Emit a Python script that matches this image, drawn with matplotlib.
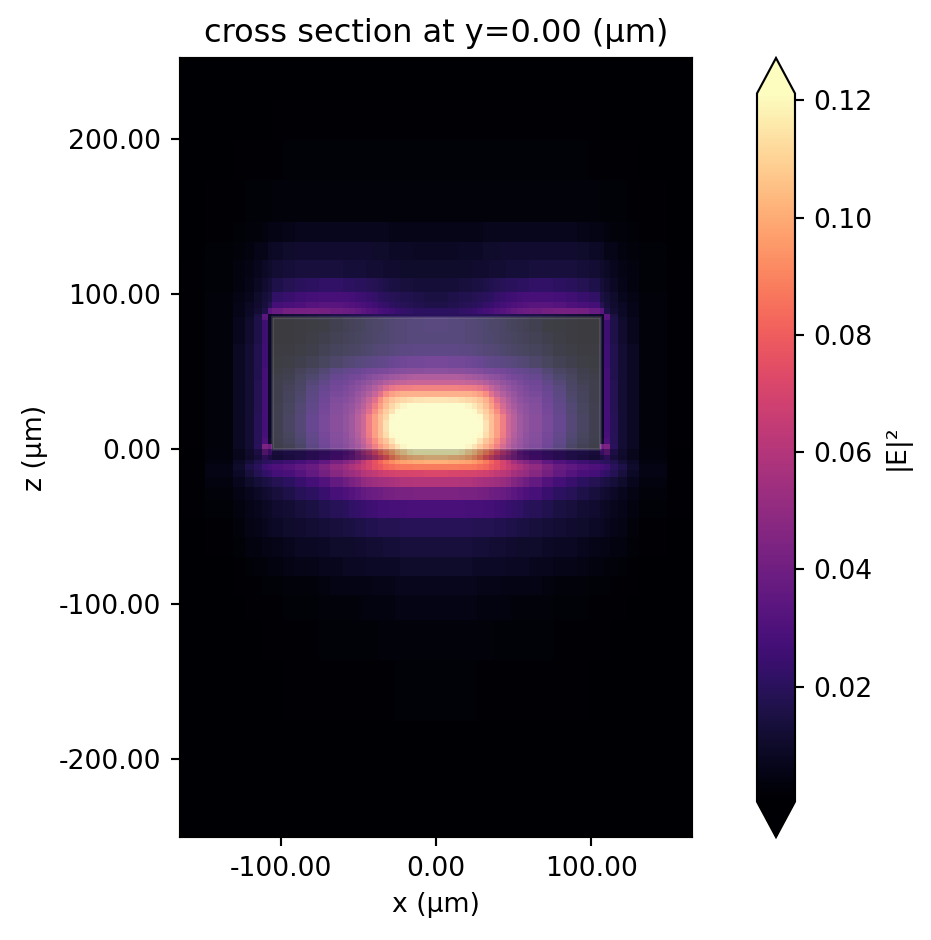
import numpy as np
import matplotlib
matplotlib.use("Agg")
import matplotlib.pyplot as plt
from matplotlib.patches import Rectangle

plt.rcParams["axes.unicode_minus"] = False

# ---------------- DATA ----------------
# left half of the x cell edges (um), the field is mirrored about x=0
x_edges_left = [-165, -149, -131, -123, -117, -112, -108.5, -106, -98.5, -91, -83.5, -75.5, -68, -60,
                -56, -52, -48.5, -45, -41, -37.5, -34, -30, -26.5, -23, -19, -15, -7.5, 0]

# z cell edges (um), top to bottom
z_edges = [252, 225, 199.4, 173.5, 146.5, 133.5, 122, 110.3, 101.3, 94.8, 91, 87, 85.4, 83.2,
           75.5, 67.7, 60, 52.3, 48.4, 44.5, 41, 37.4, 33.5, 29.7, 26, 22.6, 18.7, 14.8, 11, 7.4, 3.5, 0,
           -3.9, -7.1, -9.7, -13.5, -18, -24.5, -33, -44.5, -56.8, -69.7, -82, -94, -110, -136, -175, -250]

# |E|^2 in units of 0.001, one row per z cell, left half of x
field_left = [
    [0, 0, 0, 0, 0, 0, 0, 0, 0, 0, 0, 0, 0, 0, 0, 0, 0, 0, 0, 0, 0, 0, 0, 0, 0, 0, 0],
    [0, 0, 0, 0, 0, 0, 0, 1, 1, 1, 1, 1, 1, 1, 1, 1, 1, 1, 1, 1, 1, 1, 1, 1, 1, 1, 1],
    [0, 0, 1, 1, 1, 1, 1, 1, 2, 2, 2, 2, 2, 2, 2, 2, 2, 2, 2, 2, 2, 2, 2, 2, 2, 2, 2],
    [0, 1, 1, 2, 2, 2, 2, 3, 3, 3, 3, 3, 3, 3, 3, 3, 3, 3, 3, 3, 3, 3, 3, 3, 3, 3, 3],
    [0, 1, 2, 3, 3, 4, 5, 5, 6, 7, 7, 7, 7, 7, 7, 7, 7, 7, 7, 7, 7, 6, 6, 6, 6, 6, 6],
    [0, 2, 3, 4, 6, 6, 8, 9, 10, 11, 11, 11, 11, 11, 11, 11, 11, 11, 10, 10, 10, 9, 9, 9, 9, 8, 8],
    [1, 2, 4, 5, 7, 9, 10, 12, 13, 14, 14, 14, 14, 13, 13, 13, 13, 12, 12, 12, 11, 11, 11, 10, 10, 10, 10],
    [1, 2, 4, 6, 8, 11, 13, 16, 18, 20, 21, 22, 22, 21, 21, 20, 20, 19, 18, 17, 16, 15, 15, 14, 14, 13, 13],
    [1, 3, 5, 7, 10, 13, 15, 22, 24, 26, 27, 28, 28, 28, 27, 26, 25, 24, 23, 21, 20, 19, 18, 17, 17, 16, 15],
    [1, 3, 6, 8, 11, 14, 18, 27, 29, 30, 32, 33, 33, 32, 31, 30, 29, 27, 26, 24, 23, 21, 20, 19, 18, 17, 16],
    [1, 3, 6, 9, 12, 16, 34, 38, 41, 42, 42, 41, 40, 39, 38, 36, 34, 32, 31, 29, 27, 26, 24, 23, 22, 21, 21],
    [1, 3, 6, 9, 15, 34, 9, 11, 12, 13, 14, 15, 16, 16, 17, 17, 18, 18, 19, 19, 19, 20, 20, 20, 20, 20, 20],
    [1, 3, 7, 10, 16, 33, 9, 2, 3, 4, 5, 6, 7, 9, 9, 10, 11, 12, 13, 14, 15, 15, 16, 17, 17, 18, 19],
    [1, 3, 7, 11, 16, 25, 9, 1, 1, 2, 3, 4, 7, 8, 9, 10, 11, 13, 14, 14, 15, 16, 17, 17, 18, 18, 19],
    [1, 3, 7, 11, 16, 25, 9, 1, 1, 2, 4, 6, 8, 9, 10, 11, 12, 13, 14, 15, 15, 16, 17, 17, 18, 18, 18],
    [1, 3, 8, 12, 17, 26, 9, 2, 2, 4, 5, 8, 10, 11, 12, 13, 14, 15, 16, 17, 17, 18, 19, 20, 20, 21, 21],
    [1, 3, 8, 12, 17, 26, 9, 3, 4, 6, 8, 11, 14, 16, 17, 18, 19, 20, 21, 22, 23, 25, 26, 27, 28, 29, 30],
    [1, 3, 8, 12, 17, 27, 9, 4, 6, 9, 12, 16, 21, 23, 24, 25, 27, 29, 30, 31, 32, 34, 35, 36, 37, 37, 38],
    [1, 3, 8, 12, 17, 27, 9, 5, 7, 11, 15, 19, 24, 26, 28, 30, 32, 35, 38, 40, 43, 45, 47, 49, 51, 52, 52],
    [1, 3, 8, 12, 18, 27, 9, 6, 8, 12, 17, 22, 27, 29, 32, 35, 38, 41, 45, 49, 54, 57, 59, 60, 61, 62, 62],
    [1, 3, 8, 12, 18, 27, 9, 6, 9, 13, 19, 24, 29, 32, 35, 38, 42, 47, 53, 60, 68, 74, 77, 78, 79, 80, 80],
    [1, 3, 8, 12, 18, 27, 9, 6, 10, 14, 20, 26, 31, 34, 37, 42, 47, 53, 61, 71, 83, 90, 93, 95, 96, 96, 96],
    [1, 3, 8, 12, 18, 27, 9, 6, 10, 15, 21, 27, 33, 36, 40, 45, 52, 61, 71, 85, 96, 102, 106, 108, 110, 112, 113],
    [1, 3, 8, 12, 18, 27, 9, 7, 11, 16, 22, 29, 35, 39, 43, 49, 56, 66, 78, 90, 100, 108, 114, 118, 124, 125, 125],
    [1, 3, 8, 12, 18, 27, 9, 7, 11, 16, 23, 30, 36, 40, 44, 52, 60, 71, 84, 96, 105, 112, 120, 125, 125, 125, 125],
    [1, 3, 8, 12, 19, 27, 9, 7, 12, 17, 24, 31, 37, 41, 46, 55, 64, 78, 90, 100, 108, 120, 125, 125, 125, 125, 125],
    [1, 3, 8, 12, 19, 27, 9, 7, 12, 17, 24, 31, 37, 41, 46, 55, 64, 78, 90, 100, 112, 123, 125, 125, 125, 125, 125],
    [1, 3, 8, 12, 19, 27, 9, 7, 12, 17, 24, 31, 37, 41, 46, 55, 64, 78, 90, 100, 112, 123, 125, 125, 125, 125, 125],
    [1, 3, 8, 12, 19, 28, 9, 7, 11, 16, 23, 30, 36, 40, 46, 54, 64, 77, 90, 100, 110, 120, 125, 125, 125, 125, 125],
    [1, 3, 8, 12, 19, 30, 10, 6, 10, 15, 22, 29, 35, 39, 44, 51, 60, 72, 84, 95, 102, 112, 120, 125, 125, 125, 125],
    [1, 3, 8, 12, 20, 44, 40, 5, 8, 13, 20, 27, 33, 37, 42, 48, 56, 66, 78, 88, 96, 104, 112, 118, 122, 125, 125],
    [1, 4, 8, 13, 18, 36, 28, 16, 18, 19, 22, 24, 28, 31, 35, 45, 54, 62, 72, 82, 90, 98, 107, 112, 118, 125, 125],
    [1, 4, 8, 12, 16, 24, 18, 15, 17, 19, 22, 25, 29, 33, 37, 43, 48, 54, 62, 70, 78, 88, 95, 100, 104, 106, 108],
    [1, 4, 9, 13, 17, 20, 21, 23, 25, 28, 31, 35, 42, 46, 50, 56, 64, 70, 76, 82, 88, 92, 96, 98, 99, 100, 101],
    [1, 5, 10, 16, 20, 26, 28, 30, 32, 35, 38, 44, 50, 54, 58, 62, 66, 70, 75, 78, 82, 84, 86, 87, 87, 88, 88],
    [1, 5, 9, 14, 18, 22, 24, 27, 29, 32, 36, 41, 47, 51, 53, 56, 60, 62, 64, 66, 68, 69, 70, 70, 71, 71, 72],
    [1, 4, 7, 10, 13, 15, 16, 18, 21, 24, 27, 31, 36, 40, 43, 46, 50, 52, 54, 55, 56, 57, 58, 59, 59, 60, 60],
    [1, 3, 5, 7, 9, 11, 12, 14, 16, 19, 21, 24, 28, 30, 32, 34, 36, 38, 39, 40, 41, 42, 43, 43, 43, 44, 44],
    [1, 2, 4, 6, 7, 8, 9, 11, 12, 14, 15, 17, 19, 20, 22, 23, 24, 25, 26, 27, 27, 28, 28, 28, 29, 29, 29],
    [0, 1, 3, 5, 6, 7, 8, 9, 10, 11, 12, 13, 14, 15, 15, 16, 16, 17, 17, 18, 18, 18, 18, 19, 19, 19, 19],
    [0, 1, 2, 4, 4, 5, 5, 6, 7, 8, 8, 9, 10, 10, 10, 11, 11, 12, 12, 12, 13, 13, 13, 14, 14, 14, 14],
    [0, 0, 1, 2, 3, 3, 4, 4, 5, 6, 6, 7, 7, 8, 8, 8, 8, 9, 9, 9, 9, 9, 9, 10, 10, 10, 10],
    [0, 0, 1, 1, 1, 2, 2, 2, 3, 3, 3, 4, 5, 5, 5, 5, 5, 5, 6, 6, 6, 6, 7, 7, 7, 7, 7],
    [0, 0, 0, 1, 1, 1, 1, 1, 2, 2, 2, 3, 3, 3, 3, 3, 4, 4, 4, 4, 4, 4, 5, 5, 5, 5, 5],
    [0, 0, 0, 0, 0, 1, 1, 1, 1, 1, 1, 2, 2, 2, 2, 2, 2, 2, 2, 3, 3, 3, 3, 3, 3, 3, 3],
    [0, 0, 0, 0, 0, 0, 0, 0, 1, 1, 1, 1, 1, 1, 1, 1, 1, 1, 1, 1, 1, 1, 2, 2, 2, 2, 2],
    [0, 0, 0, 0, 0, 0, 0, 0, 0, 0, 0, 0, 0, 0, 0, 0, 0, 0, 0, 0, 0, 0, 0, 0, 0, 0, 0],
]

x_ticks = [-100, 0, 100]
z_ticks = [-200, -100, 0, 100, 200]
cbar_ticks = [0.02, 0.04, 0.06, 0.08, 0.10, 0.12]

# ---------------- BUILD GRID ----------------
left = np.array(x_edges_left, dtype=float)
x_edges = np.concatenate([left, -left[-2::-1]])
half = np.array(field_left, dtype=float) / 1000
field = np.hstack([half, half[:, ::-1]])

# ---------------- PLOT ----------------
fig = plt.figure(figsize=(931 / 192, 940 / 192), dpi=192)
ax = fig.add_axes([180 / 931, 103 / 940, 512 / 931, 779 / 940])
cax = fig.add_axes([757 / 931, 103 / 940, 38 / 931, 779 / 940])

mesh = ax.pcolormesh(x_edges, z_edges, field, cmap="magma", vmin=0.0004, vmax=0.1212,
                     shading="flat", linewidth=0, rasterized=True)

# structure box and the dim layer just under it
ax.add_patch(Rectangle((-106, 0), 212, 85.4, facecolor=(1, 1, 1, 0.235),
                       edgecolor=(1, 1, 1, 0.12), linewidth=1))
ax.add_patch(Rectangle((-165, -7.1), 330, 7.1, facecolor=(0, 0, 0, 0.2), edgecolor="none"))

ax.set_xlim(-165, 165)
ax.set_ylim(-250, 252)
ax.set_xticks(x_ticks)
ax.set_xticklabels([f"{t:.2f}" for t in x_ticks])
ax.set_yticks(z_ticks)
ax.set_yticklabels([f"{t:.2f}" for t in z_ticks])
ax.set_xlabel("x (µm)")
ax.set_ylabel("z (µm)")
ax.set_title("cross section at y=0.00 (µm)")

cbar = fig.colorbar(mesh, cax=cax, extend="both")
cbar.set_ticks(cbar_ticks)
cbar.set_ticklabels([f"{t:.2f}" for t in cbar_ticks])
cbar.set_label("|E|²")

fig.savefig("out.png", dpi=192)
